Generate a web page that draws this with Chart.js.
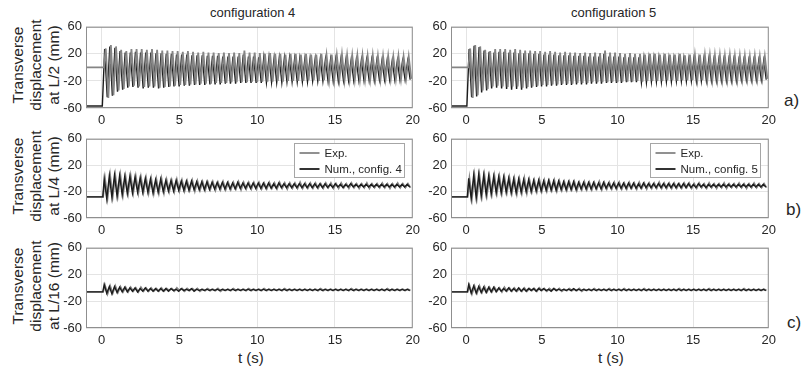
<!DOCTYPE html>
<html>
<head>
<meta charset="utf-8">
<script src="https://cdn.jsdelivr.net/npm/chart.js@4.4.1/dist/chart.umd.min.js"></script>
<style>
  body { margin: 0; background: #fff; width: 811px; height: 373px; position: relative; overflow: hidden;
         font-family: "Liberation Sans", Arial, sans-serif; color: #262626; }
  .panel { position: absolute; }
  .txt { position: absolute; white-space: nowrap; line-height: 1; }
  .ylab { position: absolute; width: 110px; height: 54px; line-height: 18px; font-size: 15.5px;
          text-align: center; transform: rotate(-90deg); }
</style>
</head>
<body>
<div class="txt" style="left:210px;top:6px;font-size:13px;">configuration 4</div>
<div class="txt" style="left:571px;top:6px;font-size:13px;">configuration 5</div>
<div class="txt" style="left:238px;top:350px;font-size:15px;">t (s)</div>
<div class="txt" style="left:598px;top:350px;font-size:15px;">t (s)</div>
<div class="txt" style="left:784px;top:92px;font-size:17px;">a)</div>
<div class="txt" style="left:786px;top:201px;font-size:17px;">b)</div>
<div class="txt" style="left:787px;top:314px;font-size:17px;">c)</div>
<div class="ylab" style="left:-19px;top:38px;">Transverse<br>displacement<br>at L/2 (mm)</div>
<div class="ylab" style="left:-19px;top:149px;">Transverse<br>displacement<br>at L/4 (mm)</div>
<div class="ylab" style="left:-19px;top:259px;">Transverse<br>displacement<br>at L/16 (mm)</div>

<script>
// axes
const xTicks = [0, 5, 10, 15, 20];
const yTicks = [-60, -40, -20, 0, 20, 40, 60];
const period = 0.33; // s, one oscillation

// L/2 - experiment (same in both columns)
const expA_hi = [28,33,31,26,24,27,27,27,26,27, 26,25,25,24,24,23,24,23,22,23,
                 22,22,21,22,21,22,21,25,22,22, 21,20,21,20,20,19,20,20,19,20,
                 19,19,20,18,19,18,19,18,18,18, 18,17,18,17,17,17,16,17,16,16];
const expA_lo = [-45,-41,-34,-32,-28,-27,-28,-29,-28,-28, -30,-29,-28,-27,-26,-26,-25,-25,-24,-24,
                 -24,-23,-23,-23,-22,-22,-22,-22,-21,-22, -21,-21,-21,-20,-21,-20,-20,-20,-20,-19,
                 -19,-20,-19,-19,-19,-18,-19,-18,-18,-18, -18,-18,-17,-18,-17,-17,-17,-17,-16,-17];
// L/2 - numerical
const numA4_hi = [27,31,29,24,22,22,23,22,22,22, 21,21,20,20,19,19,19,18,18,18,
                  17,17,17,16,16,16,16,19,16,16, 15,15,15,14,14,14,14,13,13,13,
                  13,13,13,12,12,12,12,12,11,11, 11,11,11,10,10,10,10,10,9,9];
const numA4_lo = [-44,-42,-36,-33,-30,-29,-30,-31,-30,-30, -31,-30,-29,-28,-28,-27,-27,-26,-26,-26,
                  -25,-25,-25,-24,-24,-24,-23,-23,-23,-23, -23,-22,-22,-22,-22,-21,-21,-21,-21,-21,
                  -20,-20,-20,-20,-20,-20,-19,-19,-19,-19, -19,-19,-19,-18,-18,-18,-18,-18,-18,-18];
const numA5_hi = [27,32,30,25,23,22,23,23,22,22, 21,21,21,20,20,19,19,19,18,18,
                  18,17,17,17,16,16,16,20,16,16, 16,15,15,15,15,14,14,14,14,13,
                  13,13,13,13,12,12,12,12,12,11, 11,11,11,11,10,10,10,10,10,10];
const numA5_lo = [-44,-43,-37,-34,-31,-30,-31,-32,-33,-32, -33,-31,-30,-29,-28,-28,-27,-27,-26,-26,
                  -26,-25,-25,-25,-24,-24,-24,-23,-23,-23, -23,-22,-22,-22,-22,-22,-21,-21,-21,-21,
                  -21,-20,-20,-20,-20,-20,-20,-19,-19,-19, -19,-19,-19,-19,-18,-18,-18,-18,-18,-18];

// L/4
const expB_hi = [0,5,5,5,3,4,3,2,1,0, -1,0,-2,-3,-2,-3,-4,-3,-4,-5,
                 -5,-5,-6,-5,-6,-6,-5,-6,-6,-6, -6,-7,-6,-7,-6,-7,-7,-7,-6,-7,
                 -7,-7,-8,-7,-7,-8,-7,-8,-7,-8, -8,-7,-8,-8,-7,-8,-8,-7,-8,-8];
const expB_lo = [-30,-28,-26,-25,-23,-22,-22,-21,-22,-23, -22,-22,-20,-20,-19,-19,-18,-19,-18,-18,
                 -17,-18,-17,-17,-17,-16,-17,-16,-16,-16, -16,-16,-15,-16,-15,-16,-15,-15,-15,-15,
                 -15,-15,-15,-14,-15,-15,-14,-15,-14,-15, -14,-15,-14,-14,-14,-15,-14,-14,-14,-14];
const numB4_hi = [-1,4,5,4,3,3,2,1,0,-1, -2,-1,-3,-3,-3,-4,-4,-4,-5,-5,
                  -5,-6,-6,-6,-6,-7,-6,-7,-7,-7, -7,-7,-7,-8,-7,-8,-8,-8,-8,-8,
                  -8,-8,-8,-8,-9,-8,-9,-9,-8,-9, -9,-9,-9,-9,-9,-9,-9,-9,-9,-9];
const numB4_lo = [-31,-29,-27,-25,-23,-22,-21,-21,-21,-22, -21,-20,-19,-19,-18,-18,-18,-17,-17,-17,
                  -17,-16,-16,-16,-16,-16,-15,-15,-15,-15, -15,-15,-15,-15,-14,-14,-14,-14,-14,-14,
                  -14,-14,-14,-14,-14,-13,-14,-13,-13,-13, -13,-13,-13,-13,-13,-13,-13,-13,-13,-13];
const numB5_hi = [0,5,6,5,4,3,2,2,0,-1, -1,-2,-2,-3,-3,-4,-3,-4,-4,-5,
                  -5,-5,-6,-6,-6,-6,-7,-6,-7,-7, -7,-7,-7,-7,-8,-7,-8,-8,-8,-8,
                  -8,-8,-8,-8,-8,-9,-8,-9,-9,-9, -9,-9,-9,-9,-9,-9,-9,-9,-9,-9];
const numB5_lo = [-31,-30,-27,-25,-24,-22,-22,-21,-22,-22, -21,-20,-20,-19,-19,-18,-18,-18,-17,-17,
                  -17,-17,-16,-16,-16,-16,-16,-15,-15,-15, -15,-15,-15,-15,-15,-14,-14,-14,-14,-14,
                  -14,-14,-14,-14,-14,-14,-13,-14,-13,-13, -13,-13,-13,-13,-13,-13,-13,-13,-13,-13];

// L/16
const expC_hi = [4,3,3,2,1,1,0,1,0,0, -1,0,-1,-1,0,-1,-1,-1,-1,-2,
                 -1,-2,-1,-2,-2,-1,-2,-2,-1,-2, -2,-1,-2,-2,-2,-1,-2,-2,-2,-2,
                 -2,-2,-1,-2,-2,-2,-2,-2,-1,-2, -2,-2,-2,-2,-2,-1,-2,-2,-2,-2];
const expC_lo = [-9,-8,-7,-6,-6,-5,-6,-5,-5,-5, -5,-5,-4,-5,-4,-5,-4,-4,-5,-4,
                 -4,-4,-5,-4,-4,-4,-4,-4,-4,-4, -4,-4,-4,-4,-4,-4,-4,-4,-4,-4,
                 -4,-4,-4,-4,-4,-4,-4,-4,-4,-4, -4,-4,-4,-4,-4,-4,-4,-4,-4,-4];
const numC4_hi = [5,2,2,1,1,0,0,-1,0,-1, -1,-1,-1,-1,-2,-1,-2,-1,-2,-2,
                  -2,-2,-2,-2,-2,-2,-2,-2,-2,-2, -2,-2,-2,-2,-2,-2,-2,-2,-2,-2,
                  -2,-2,-2,-2,-2,-2,-2,-2,-2,-2, -2,-2,-2,-2,-2,-2,-2,-2,-2,-2];
const numC4_lo = [-8,-9,-7,-6,-6,-5,-6,-5,-5,-5, -5,-5,-5,-4,-5,-4,-4,-5,-4,-4,
                  -4,-4,-4,-4,-4,-4,-4,-4,-4,-4, -4,-4,-4,-4,-4,-4,-4,-4,-4,-4,
                  -4,-4,-4,-4,-4,-4,-4,-4,-4,-4, -4,-4,-4,-4,-4,-4,-4,-4,-4,-4];
const numC5_hi = [5,3,2,1,1,1,0,-1,0,-1, 0,-1,-1,-1,-1,-1,-2,-1,-2,-2,
                  -2,-1,-2,-2,-2,-2,-2,-2,-2,-2, -2,-2,-2,-2,-2,-2,-2,-2,-2,-2,
                  -2,-2,-2,-2,-2,-2,-2,-2,-2,-2, -2,-2,-2,-2,-2,-2,-2,-2,-2,-2];
const numC5_lo = [-8,-8,-7,-7,-6,-6,-5,-5,-5,-5, -5,-5,-4,-5,-4,-4,-5,-4,-4,-4,
                  -4,-4,-4,-4,-4,-4,-4,-4,-4,-4, -4,-4,-4,-4,-4,-4,-4,-4,-4,-4,
                  -4,-4,-4,-4,-4,-4,-4,-4,-4,-4, -4,-4,-4,-4,-4,-4,-4,-4,-4,-4];

// static level before release and release time
const preA_exp = 0, preA_num = -57, preB = -28, preC = -6;

function series(pre, tRelease, tFirst, hi, lo) {
  const pts = [{ x: -1, y: pre }, { x: tRelease, y: pre }];
  hi.forEach((v, k) => {
    const t = tFirst + k * period;
    pts.push({ x: t, y: v });
    pts.push({ x: t + period / 2, y: lo[k] });
  });
  return pts;
}

const EXP_COLOR = '#858585';
const NUM_COLOR = '#1c1c1c';
const FONT = 'Liberation Sans, Arial, sans-serif';

const boxPlugin = {
  id: 'box',
  afterDraw(chart, args, opts) {
    const { ctx, chartArea: a } = chart;
    ctx.save();
    ctx.strokeStyle = '#8f8f8f';
    ctx.lineWidth = 1;
    ctx.strokeRect(a.left + 0.5, a.top + 0.5, a.right - a.left - 1, a.bottom - a.top - 1);
    if (opts.legend) {
      const bw = 110, bh = 34;
      const bx = Math.round(a.right - 9 - bw) + 0.5, by = Math.round(a.top + 4) + 0.5;
      ctx.fillStyle = '#fff';
      ctx.fillRect(bx, by, bw, bh);
      ctx.strokeStyle = '#a6a6a6';
      ctx.strokeRect(bx, by, bw, bh);
      ctx.font = '11.5px ' + FONT;
      ctx.textBaseline = 'middle';
      chart.data.datasets.forEach((ds, i) => {
        const y = by + 9.5 + 16 * i;
        ctx.strokeStyle = ds.borderColor;
        ctx.lineWidth = 1.8;
        ctx.beginPath();
        ctx.moveTo(bx + 5, y);
        ctx.lineTo(bx + 25, y);
        ctx.stroke();
        ctx.fillStyle = '#262626';
        ctx.fillText(ds.label, bx + 30, y + 1);
      });
    }
    ctx.restore();
  }
};

// expOnTop: in a) the grey experimental band shows over the black one
const panels = [
  { left: 86, top: 23, w: 331, h: 85, cfg: 4, expOnTop: true, exp: series(preA_exp, 0.15, 0.27, expA_hi, expA_lo), num: series(preA_num, 0.05, 0.2, numA4_hi, numA4_lo) },
  { left: 451, top: 23, w: 322, h: 85, cfg: 5, expOnTop: true, exp: series(preA_exp, 0.15, 0.27, expA_hi, expA_lo), num: series(preA_num, 0.05, 0.2, numA5_hi, numA5_lo) },
  { left: 86, top: 135, w: 331, h: 83, cfg: 4, legend: true, exp: series(preB, 0.1, 0.22, expB_hi, expB_lo), num: series(preB, 0.08, 0.17, numB4_hi, numB4_lo) },
  { left: 451, top: 135, w: 322, h: 83, cfg: 5, legend: true, exp: series(preB, 0.1, 0.22, expB_hi, expB_lo), num: series(preB, 0.08, 0.17, numB5_hi, numB5_lo) },
  { left: 86, top: 244, w: 331, h: 84, cfg: 4, exp: series(preC, 0.1, 0.22, expC_hi, expC_lo), num: series(preC, 0.08, 0.17, numC4_hi, numC4_lo) },
  { left: 451, top: 244, w: 322, h: 84, cfg: 5, exp: series(preC, 0.1, 0.22, expC_hi, expC_lo), num: series(preC, 0.08, 0.17, numC5_hi, numC5_lo) }
];

const Y_W = 40, X_H = 22, PAD_T = 8, PAD_R = 8;

panels.forEach(p => {
  const wrap = document.createElement('div');
  wrap.className = 'panel';
  const W = p.w + Y_W + PAD_R, H = p.h + PAD_T + X_H;
  wrap.style.left = (p.left - Y_W) + 'px';
  wrap.style.top = (p.top - PAD_T) + 'px';
  wrap.style.width = W + 'px';
  wrap.style.height = H + 'px';
  const canvas = document.createElement('canvas');
  canvas.width = W;
  canvas.height = H;
  wrap.appendChild(canvas);
  document.body.appendChild(wrap);

  const tickFont = { family: FONT, size: 13 };
  new Chart(canvas, {
    type: 'line',
    data: {
      datasets: [
        { label: 'Exp.', data: p.exp, borderColor: EXP_COLOR, borderWidth: 1.8, pointRadius: 0, tension: 0, order: p.expOnTop ? 1 : 2 },
        { label: 'Num., config. ' + p.cfg, data: p.num, borderColor: NUM_COLOR, borderWidth: 1.4, pointRadius: 0, tension: 0, order: p.expOnTop ? 2 : 1 }
      ]
    },
    options: {
      responsive: false,
      animation: false,
      events: [],
      layout: { padding: { top: PAD_T, right: PAD_R, left: 0, bottom: 0 } },
      plugins: { legend: { display: false }, tooltip: { enabled: false }, box: { legend: !!p.legend } },
      scales: {
        x: {
          type: 'linear', min: -1, max: 20,
          afterBuildTicks: s => { s.ticks = xTicks.map(v => ({ value: v })); },
          afterFit: s => { s.height = X_H; },
          grid: { color: '#e4e4e4', drawTicks: false },
          border: { display: false },
          ticks: { font: tickFont, color: '#262626', padding: 5, maxRotation: 0 }
        },
        y: {
          min: -60, max: 60,
          afterBuildTicks: s => { s.ticks = yTicks.map(v => ({ value: v })); },
          afterFit: s => { s.width = Y_W; },
          grid: { color: '#e4e4e4', drawTicks: false },
          border: { display: false },
          ticks: { font: tickFont, color: '#262626', padding: 4 }
        }
      }
    },
    plugins: [boxPlugin]
  });
});
</script>
</body>
</html>
